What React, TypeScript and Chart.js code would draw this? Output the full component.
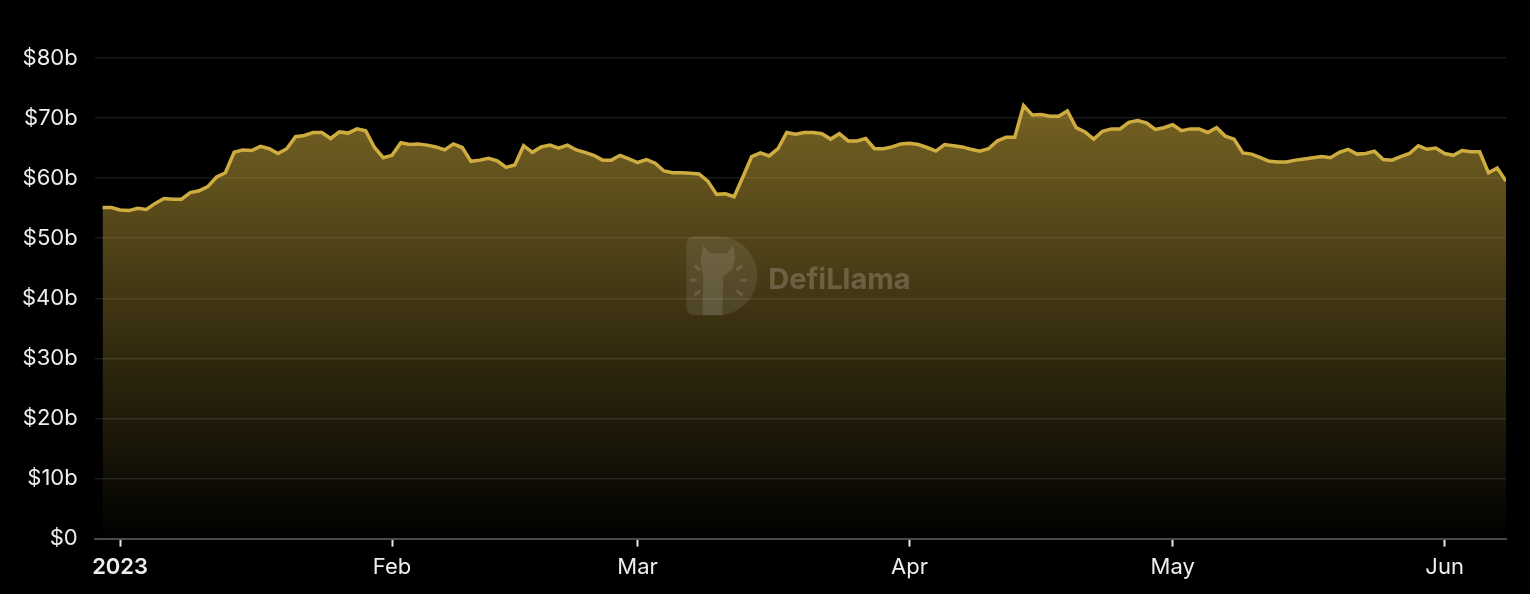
import React, { useEffect, useRef } from 'react';
import { Chart, registerables } from 'chart.js';

Chart.register(...registerables);

// ---- Data ----
const startDate = '2022-12-30';
// Total value locked, $ billions, one value per day from startDate
const tvlBillions: number[] = [
  55.1, 55.1, 54.7, 54.6, 55.0, 54.8, 55.8, 56.6, 56.5, 56.5,
  57.6, 57.9, 58.6, 60.2, 60.9, 64.3, 64.7, 64.6, 65.3, 64.9,
  64.1, 64.9, 66.9, 67.1, 67.6, 67.6, 66.6, 67.7, 67.5, 68.2,
  67.9, 65.1, 63.4,
  63.8, 65.9, 65.6, 65.7, 65.5, 65.2, 64.7, 65.7, 65.1, 62.8,
  63.0, 63.3, 62.9, 61.8, 62.2, 65.4, 64.3, 65.2, 65.5, 65.0,
  65.5, 64.7, 64.3, 63.8, 63.0, 63.0, 63.8, 63.2, 62.6, 63.1,
  62.5, 61.2,
  60.9, 60.9, 60.8, 60.7, 59.5, 57.3, 57.4, 56.9, 60.2, 63.6,
  64.2, 63.7, 64.9, 67.6, 67.3, 67.6, 67.6, 67.4, 66.5, 67.4,
  66.2, 66.2, 66.6, 64.9, 64.9, 65.2, 65.7, 65.8, 65.6, 65.1,
  64.5, 65.6,
  65.4, 65.2, 64.8, 64.5, 64.9, 66.2, 66.8, 66.8, 72.1, 70.5,
  70.6, 70.3, 70.3, 71.2, 68.4, 67.7, 66.5, 67.8, 68.2, 68.2,
  69.3, 69.6, 69.2, 68.1, 68.4, 68.9, 67.9, 68.2, 68.2, 67.6,
  68.4, 67.0,
  66.5, 64.2, 64.0, 63.4, 62.8, 62.7, 62.7, 63.0, 63.2, 63.4,
  63.6, 63.4, 64.3, 64.8, 64.0, 64.1, 64.5, 63.1, 63.0, 63.6,
  64.1, 65.4, 64.8, 65.0, 64.1, 63.8, 64.6, 64.4, 64.4, 60.9,
  61.7, 59.5,
];
const xTickDates = ['2023-01-01', '2023-02-01', '2023-03-01', '2023-04-01', '2023-05-01', '2023-06-01'];
const xTickLabels = ['2023', 'Feb', 'Mar', 'Apr', 'May', 'Jun'];
const yTickValues = [0, 10, 20, 30, 40, 50, 60, 70, 80];
const yTickLabels = ['$0', '$10b', '$20b', '$30b', '$40b', '$50b', '$60b', '$70b', '$80b'];

const DAY = 86400000;
const dayIndex = (d: string) =>
  Math.round((Date.parse(d + 'T00:00:00Z') - Date.parse(startDate + 'T00:00:00Z')) / DAY);

const GOLD = '#cfac3f';
const FONT = 'Inter, "Noto Sans", sans-serif';

const watermark = {
  id: 'watermark',
  afterDatasetsDraw(chart: any) {
    const { ctx, chartArea } = chart;
    const cx = (chartArea.left + chartArea.right) / 2;
    const cy = (chartArea.top + chartArea.bottom) / 2;
    ctx.save();
    // D-shaped logo
    const ox = cx - 114;
    const oy = cy - 62;
    const w = 71;
    const h = 79;
    const r = 9;
    const R = h / 2;
    ctx.beginPath();
    ctx.moveTo(ox + r, oy);
    ctx.lineTo(ox + w - R, oy);
    ctx.arc(ox + w - R, oy + R, R, -Math.PI / 2, Math.PI / 2);
    ctx.lineTo(ox + r, oy + h);
    ctx.quadraticCurveTo(ox, oy + h, ox, oy + h - r);
    ctx.lineTo(ox, oy + r);
    ctx.quadraticCurveTo(ox, oy, ox + r, oy);
    ctx.closePath();
    ctx.fillStyle = 'rgba(255,255,255,0.09)';
    ctx.fill();
    // llama silhouette
    const pts = [
      [17, 9], [23, 17], [40, 17], [47, 9], [49, 22], [46, 33], [37, 40],
      [36, 79], [16, 79], [17, 40], [14, 24],
    ];
    ctx.beginPath();
    pts.forEach(([px, py], i) => (i === 0 ? ctx.moveTo(ox + px, oy + py) : ctx.lineTo(ox + px, oy + py)));
    ctx.closePath();
    ctx.fillStyle = 'rgba(255,255,255,0.10)';
    ctx.fill();
    // small rays
    ctx.strokeStyle = 'rgba(255,255,255,0.12)';
    ctx.lineWidth = 3;
    ctx.lineCap = 'round';
    const rays = [[9, 30, 13, 33], [5, 44, 9, 44], [9, 58, 13, 55], [55, 30, 51, 33], [59, 44, 55, 44], [55, 58, 51, 55]];
    rays.forEach(([a, b, c, d]) => {
      ctx.beginPath();
      ctx.moveTo(ox + a, oy + b);
      ctx.lineTo(ox + c, oy + d);
      ctx.stroke();
    });
    // text
    ctx.font = `bold 29px ${FONT}`;
    ctx.fillStyle = 'rgba(255,255,255,0.2)';
    ctx.textBaseline = 'alphabetic';
    ctx.textAlign = 'left';
    ctx.fillText('DefiLlama', cx - 32, cy - 9);
    ctx.restore();
  },
};

export default function App() {
  const canvasRef = useRef<HTMLCanvasElement | null>(null);

  useEffect(() => {
    const canvas = canvasRef.current;
    if (!canvas) return;
    const points = tvlBillions.map((v, i) => ({ x: i, y: v }));
    const maxVal = Math.max(...tvlBillions);
    const tickPositions = xTickDates.map(dayIndex);

    const chart = new Chart(canvas, {
      type: 'line',
      data: {
        datasets: [
          {
            data: points,
            borderColor: GOLD,
            borderWidth: 3.5,
            pointRadius: 0,
            tension: 0,
            fill: 'origin',
            backgroundColor: (c: any) => {
              const { chart: ch } = c;
              const area = ch.chartArea;
              if (!area) return 'rgba(201,168,60,0.4)';
              const yScale = ch.scales.y;
              const top = yScale.getPixelForValue(maxVal);
              const g = ch.ctx.createLinearGradient(0, top, 0, area.bottom);
              g.addColorStop(0, 'rgba(201,168,60,0.58)');
              g.addColorStop(1, 'rgba(201,168,60,0.0)');
              return g;
            },
          },
        ],
      },
      options: {
        animation: false,
        responsive: false,
        maintainAspectRatio: false,
        layout: { padding: { top: 58, left: 5, right: 24, bottom: 5 } },
        plugins: {
          legend: { display: false },
          tooltip: { enabled: false },
        },
        scales: {
          x: {
            type: 'linear',
            min: -0.9,
            max: tvlBillions.length - 1,
            afterBuildTicks: (scale: any) => {
              scale.ticks = tickPositions.map((v) => ({ value: v }));
            },
            ticks: {
              autoSkip: false,
              maxRotation: 0,
              padding: 8,
              color: '#eeeeee',
              font: (ctx: any) => ({
                family: FONT,
                size: 22,
                weight: ctx.index === 0 ? '600' : 'normal',
              }),
              callback: (_v: any, i: number) => xTickLabels[i],
            },
            grid: {
              drawOnChartArea: false,
              drawTicks: true,
              tickLength: 8,
              tickColor: '#e6e6e6',
              tickWidth: 2,
            },
            border: { display: true, color: '#4a4a4a', width: 2 },
          },
          y: {
            min: 0,
            max: 80,
            afterBuildTicks: (scale: any) => {
              scale.ticks = yTickValues.map((v) => ({ value: v }));
            },
            ticks: {
              padding: 17,
              color: '#eeeeee',
              font: { family: FONT, size: 22 },
              callback: (_v: any, i: number) => yTickLabels[i],
            },
            grid: {
              drawTicks: false,
              color: (c: any) => (c.tick && c.tick.value === 0 ? 'rgba(0,0,0,0)' : 'rgba(255,255,255,0.1)'),
              lineWidth: 1.5,
            },
            border: { display: false },
          },
        },
      },
      plugins: [watermark],
    });
    return () => chart.destroy();
  }, []);

  return (
    <div style={{ position: 'fixed', left: 0, top: 0, width: 1530, height: 594, background: '#000' }}>
      <canvas ref={canvasRef} width={1530} height={594} style={{ display: 'block' }} />
    </div>
  );
}
